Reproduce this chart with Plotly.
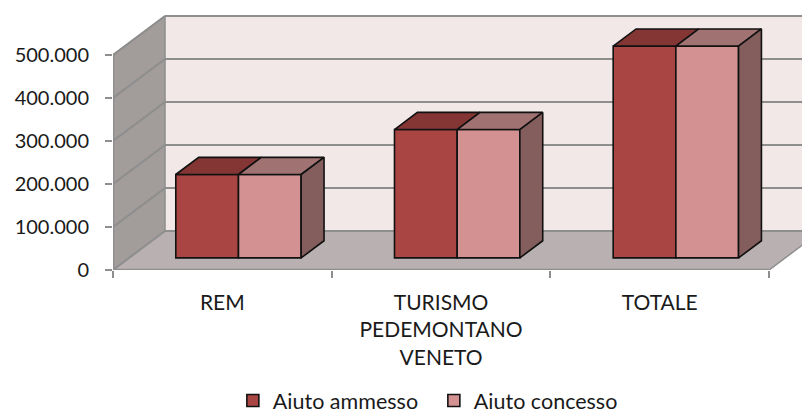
import plotly.graph_objects as go

# ---- data ----
categories = ["REM", "TURISMO<br>PEDEMONTANO<br>VENETO", "TOTALE"]
aiuto_ammesso = [194000, 298500, 492500]
aiuto_concesso = [194000, 298500, 492500]
series_names = ["Aiuto ammesso", "Aiuto concesso"]
y_tickvals = [0, 100000, 200000, 300000, 400000, 500000]
y_ticktext = ["0", "100.000", "200.000", "300.000", "400.000", "500.000"]

# ---- style / geometry constants (axis units) ----
FONT = "Lato"
WALL_TOP = 500000
DX = 0.2378          # depth offset along x (category units)
DY = 90700           # depth offset along y (value units)
F0, F1 = 0.31, 0.75  # depth fractions of bar front / back faces
BW = 0.2866          # width of one bar (category units)
XMAX = 3.187
YMAX = 600000

C_AMM = dict(front="#A94643", top="#843634", side="#7a3a38")
C_CON = dict(front="#D39191", top="#A07372", side="#845E5D")
GRID = "#8E8E8E"

n = len(categories)
base = F0 * DY
ddx = (F1 - F0) * DX
ddy = (F1 - F0) * DY

fig = go.Figure()

# front faces as bars
pair_centers = [i + 0.5 + F0 * DX for i in range(n)]
for vals, name, col, sgn in [(aiuto_ammesso, series_names[0], C_AMM, -1),
                              (aiuto_concesso, series_names[1], C_CON, 1)]:
    fig.add_trace(go.Bar(
        x=[c + sgn * BW / 2 for c in pair_centers], y=vals, base=base, width=BW,
        name=name, marker=dict(color=col["front"], line=dict(color="#111111", width=1.6)),
        hoverinfo="skip"))

# top faces and right side face
def top_poly(xl, xr, v):
    t = base + v
    return [xl, xr, xr + ddx, xl + ddx, xl, None], [t, t, t + ddy, t + ddy, t, None]

for vals, col, sgn in [(aiuto_ammesso, C_AMM, -1), (aiuto_concesso, C_CON, 1)]:
    xs, ys = [], []
    for c, v in zip(pair_centers, vals):
        xl = c + (sgn - 1) * BW / 2
        xr = xl + BW
        px, py = top_poly(xl, xr, v)
        xs += px; ys += py
    fig.add_trace(go.Scatter(x=xs, y=ys, fill="toself", fillcolor=col["top"], mode="lines",
                             line=dict(color="#111111", width=1.6), showlegend=False,
                             hoverinfo="skip"))

xs, ys = [], []
for c, v in zip(pair_centers, aiuto_concesso):
    xr = c + BW
    xs += [xr, xr, xr + ddx, xr + ddx, xr, None]
    ys += [base, base + v, base + v + ddy, base + ddy, base, None]
fig.add_trace(go.Scatter(x=xs, y=ys, fill="toself", fillcolor=C_CON["side"], mode="lines",
                         line=dict(color="#111111", width=1.6), showlegend=False,
                         hoverinfo="skip"))

# walls, floor, gridlines (chart furniture, below traces)
shapes = []
shapes.append(dict(type="path", layer="below", xref="x", yref="y",
                   path=f"M {DX},{DY} L {DX},{WALL_TOP+DY} L {n+DX},{WALL_TOP+DY} L {n+DX},{DY} Z",
                   fillcolor="#F3E8E8", line=dict(width=0)))
shapes.append(dict(type="path", layer="below", xref="x", yref="y",
                   path=f"M 0,0 L 0,{WALL_TOP} L {DX},{WALL_TOP+DY} L {DX},{DY} Z",
                   fillcolor="#A29C9B", line=dict(width=0)))
shapes.append(dict(type="path", layer="below", xref="x", yref="y",
                   path=f"M 0,0 L {n},0 L {n+DX},{DY} L {DX},{DY} Z",
                   fillcolor="#B9B1B1", line=dict(width=0)))
for v in y_tickvals:
    shapes.append(dict(type="line", layer="below", xref="x", yref="y",
                       x0=0, y0=v, x1=DX, y1=v + DY, line=dict(color=GRID, width=2)))
    shapes.append(dict(type="line", layer="below", xref="x", yref="y",
                       x0=DX, y0=v + DY, x1=n + DX, y1=v + DY, line=dict(color=GRID, width=2)))
shapes.append(dict(type="line", layer="below", xref="x", yref="y",
                   x0=DX, y0=DY, x1=DX, y1=WALL_TOP + DY, line=dict(color=GRID, width=1.5)))
shapes.append(dict(type="line", layer="below", xref="x", yref="y",
                   x0=n, y0=0, x1=n + DX, y1=DY, line=dict(color=GRID, width=1.5)))
shapes.append(dict(type="line", layer="below", xref="x", yref="y",
                   x0=0, y0=0, x1=0, y1=WALL_TOP, line=dict(color=GRID, width=2.5)))
shapes.append(dict(type="line", layer="below", xref="x", yref="y",
                   x0=0, y0=0, x1=n, y1=0, line=dict(color=GRID, width=2.5)))
shapes.append(dict(type="line", layer="below", xref="x", yref="y",
                   x0=0, y0=WALL_TOP, x1=DX, y1=WALL_TOP + DY, line=dict(color=GRID, width=1.5)))

# page body has an 8px margin, so the figure is 8px smaller than the window
fig.update_layout(
    width=802, height=408,
    margin=dict(l=105, r=0, t=4, b=146),
    paper_bgcolor="white", plot_bgcolor="rgba(0,0,0,0)",
    barmode="overlay", shapes=shapes,
    font=dict(family=FONT, size=20, color="#1a1a1a"),
    showlegend=True,
    legend=dict(orientation="h", xref="container", yref="container",
                x=0.531, xanchor="center", y=0.038, yanchor="middle",
                entrywidth=156, font=dict(size=21.5), bgcolor="rgba(0,0,0,0)"),
    xaxis=dict(range=[0, XMAX], tickvals=[i + 0.5 for i in range(n)], ticktext=categories,
               ticks="", showgrid=False, zeroline=False, showline=False, automargin=False,
               ticklabelstandoff=18, tickfont=dict(size=21),
               minor=dict(ticks="outside", tick0=0, dtick=1, ticklen=7, tickwidth=2,
                          tickcolor=GRID, showgrid=False),
               fixedrange=True),
    yaxis=dict(range=[0, YMAX], tickvals=y_tickvals, ticktext=y_ticktext,
               ticks="outside", ticklen=7, tickwidth=2, tickcolor=GRID,
               showgrid=False, zeroline=False, showline=False, automargin=False,
               ticklabelstandoff=12, fixedrange=True),
)

fig.write_html("out.html")
